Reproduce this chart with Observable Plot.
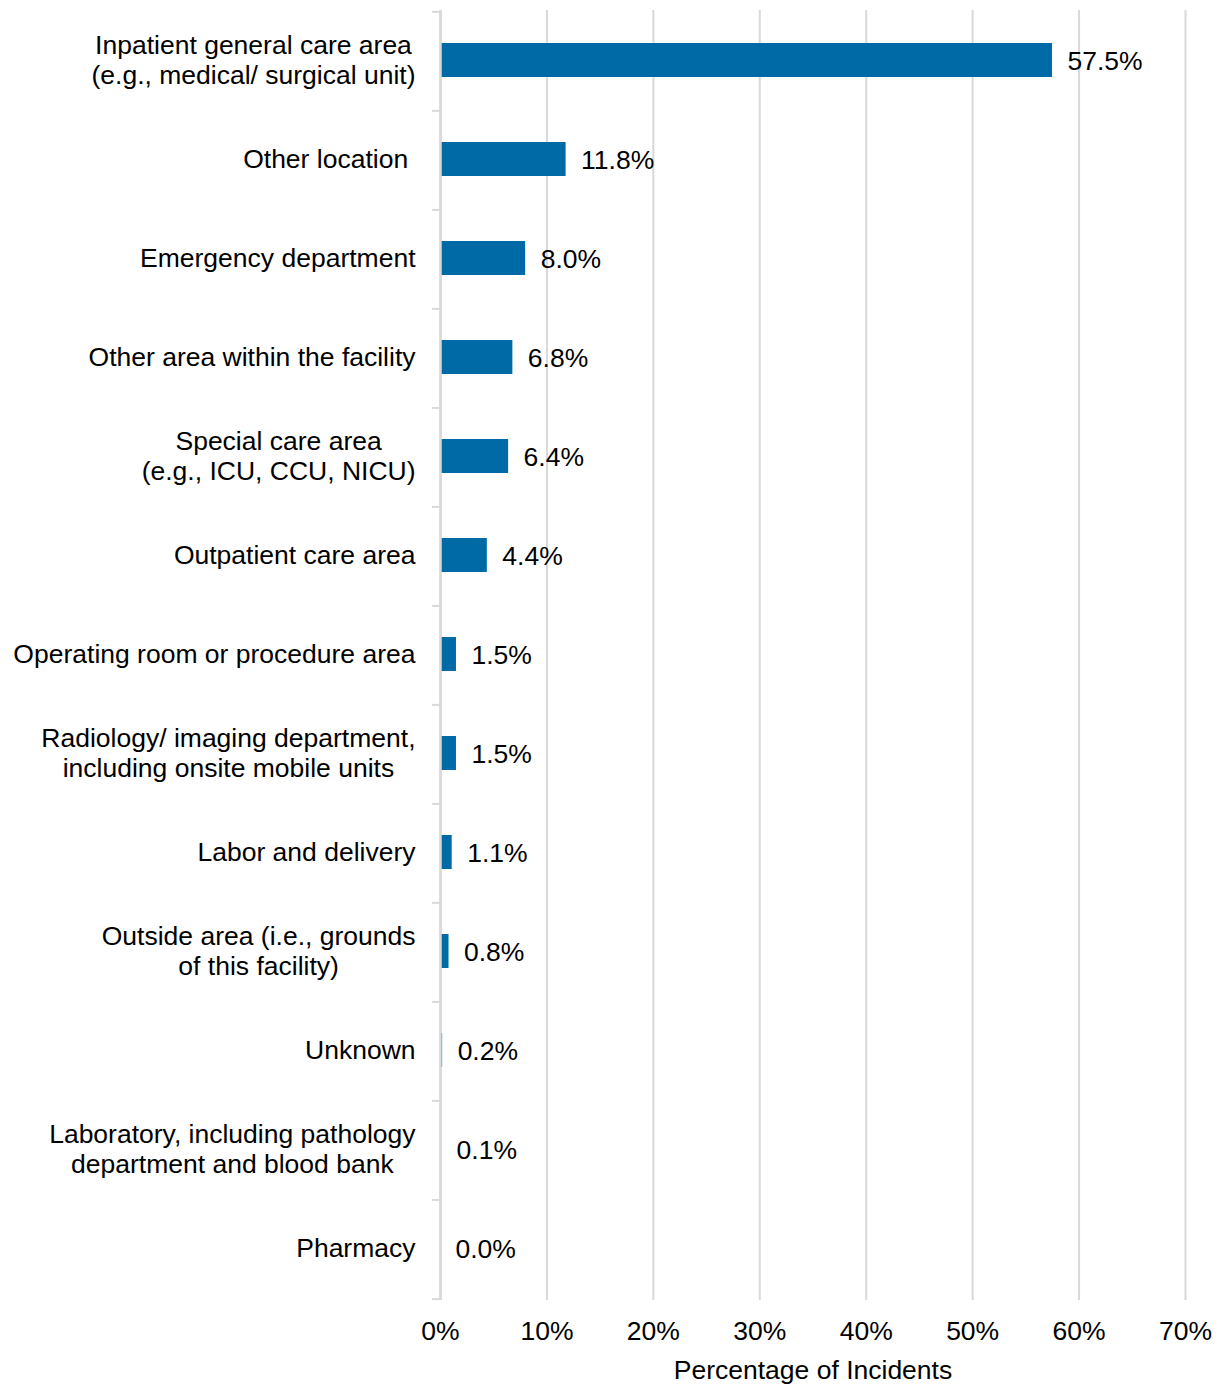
<!DOCTYPE html>
<html>
<head>
<meta charset="utf-8">
<script src="https://cdn.jsdelivr.net/npm/d3@7"></script>
<script src="https://cdn.jsdelivr.net/npm/@observablehq/plot@0.6"></script>
<style>
  html, body { margin: 0; padding: 0; background: #fff; }
  svg text { white-space: pre; }
</style>
</head>
<body>
<div id="chart"></div>
<script>
const categories = [
  "Inpatient general care area\n(e.g., medical/ surgical unit)",
  "Other location ",
  "Emergency department",
  "Other area within the facility",
  "Special care area\n(e.g., ICU, CCU, NICU)",
  "Outpatient care area",
  "Operating room or procedure area",
  "Radiology/ imaging department,\nincluding onsite mobile units",
  "Labor and delivery",
  "Outside area (i.e., grounds\nof this facility)",
  "Unknown",
  "Laboratory, including pathology\ndepartment and blood bank",
  "Pharmacy"
];
const values = [57.5, 11.8, 8.0, 6.8, 6.4, 4.4, 1.5, 1.5, 1.1, 0.8, 0.2, 0.1, 0.0];
const xTicks = [0, 10, 20, 30, 40, 50, 60, 70];
const xTitle = "Percentage of Incidents";

const data = categories.map((c, i) => ({cat: c, value: values[i]}));

const W = 1219, H = 1385;
const mL = 440, mR = 34, mT = 10, mB = 85;
const FONT = "'Liberation Sans', Arial, sans-serif";
const FS = 26.5;
const step = (H - mT - mB) / categories.length;
const grid = "#d9d9d9";
const barColor = "#006AA6";

const ctx = document.createElement("canvas").getContext("2d");
ctx.font = `${FS}px ${FONT}`;
const labelMarks = categories.map(c => {
  const w = Math.max(...c.split("\n").map(l => ctx.measureText(l).width));
  return Plot.text([c], {
    x: 0, y: d => d, text: d => d,
    textAnchor: "middle", lineHeight: 1.13,
    dx: -(25 + w / 2), dy: -2, fill: "#000"
  });
});

const chart = Plot.plot({
  width: W, height: H,
  marginLeft: mL, marginRight: mR, marginTop: mT, marginBottom: mB,
  style: {fontFamily: FONT, fontSize: FS + "px", color: "#000", background: "#fff"},
  x: {domain: [0, 70]},
  y: {domain: categories, paddingInner: 0.655, paddingOuter: 0.3275, axis: null},
  marks: [
    Plot.gridX(xTicks, {stroke: grid, strokeWidth: 2, strokeOpacity: 1}),
    Plot.ruleY(categories, {y: d => d, dy: -step / 2, x1: 0, x2: 0, insetLeft: -8, stroke: grid, strokeWidth: 2}),
    Plot.ruleY(categories.slice(-1), {y: d => d, dy: step / 2, x1: 0, x2: 0, insetLeft: -8, stroke: grid, strokeWidth: 2}),
    Plot.barX(data, {x: "value", y: "cat", fill: barColor, dy: -1}),
    Plot.ruleX([0], {stroke: grid, strokeWidth: 2.5}),
    Plot.text(data, {x: "value", y: "cat", text: d => d.value.toFixed(1) + "%", dx: 15, textAnchor: "start", fill: "#000"}),
    ...labelMarks,
    Plot.axisX(xTicks, {tickSize: 0, tickPadding: 21, tickFormat: d => d + "%", label: xTitle, labelAnchor: "center", labelArrow: "none", labelOffset: 78, fontSize: FS})
  ]
});
document.getElementById("chart").appendChild(chart);
</script>
</body>
</html>
